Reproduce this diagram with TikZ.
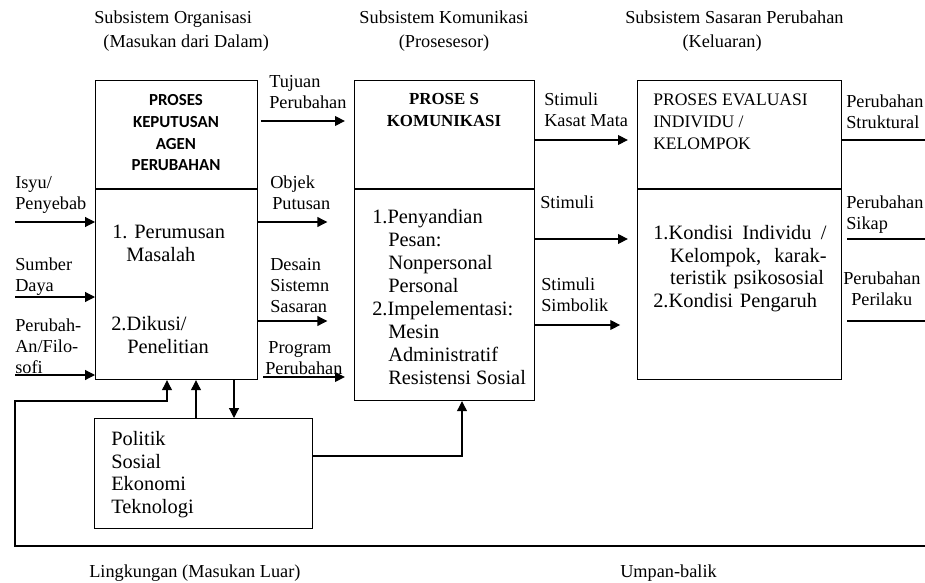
\documentclass[tikz,border=0pt]{standalone}
\usepackage{fontspec}
\setmainfont{Liberation Serif}
\newfontfamily\hdfont{Carlito}
\usetikzlibrary{positioning,arrows.meta}

\tikzset{
  box/.style={draw,line width=0.8pt,inner sep=0pt,anchor=north west},
  body/.style={inner sep=0pt,anchor=north west,align=left,font=\fontsize{14.5}{16.2}\selectfont},
  lbl/.style={inner sep=0pt,anchor=north west,align=left,font=\fontsize{13}{14.8}\selectfont},
  ttl/.style={inner sep=0pt,anchor=north west,align=left,font=\fontsize{13}{17}\selectfont},
  arr/.style={line width=0.8pt,-{Triangle[length=7pt,width=7pt]}},
  ln/.style={line width=0.8pt}
}

\begin{document}
\begin{tikzpicture}[x=0.025cm,y=-0.025cm]
\useasboundingbox (0,0) rectangle (925,583);

% judul subsistem
\node[ttl] (tOrg) at (94,11) {Subsistem Organisasi\\\hspace*{0.23cm}(Masukan dari Dalam)};
\node[ttl,anchor=north,align=center] (tKom) at (444,11) {Subsistem Komunikasi\\(Prosesesor)};
\node[ttl] (tSas) at (625,11) {Subsistem Sasaran Perubahan\\\hspace*{1.43cm}(Keluaran)};

% kotak proses
\node[box,minimum width=4.05cm,minimum height=7.475cm] (kep) at (95,80) {};
\node[box,minimum width=4.5cm,minimum height=8cm] (kom) at (354,80) {};
\node[box,minimum width=5.1cm,minimum height=7.475cm] (eva) at (637,80) {};
\node[box,minimum width=5.45cm,minimum height=2.75cm] (pol) at (94,418) {};

\coordinate (div) at (0,189);
\foreach \b in {kep,kom,eva}
  \draw[ln] (\b.west |- div) -- (\b.east |- div);

% isi kotak
\node[inner sep=0pt,anchor=north,align=center,font=\hdfont\bfseries\fontsize{12}{15.4}\selectfont] (kepH) at (176,94.5)
  {PROSES\\KEPUTUSAN\\AGEN\\PERUBAHAN};
\node[body] (kepA) at (112,225) {1. Perumusan\\\hspace*{0.35cm}Masalah};
\node[body] (kepB) at (111,316) {2.Dikusi/\\\hspace*{0.4cm}Penelitian};

\node[inner sep=0pt,anchor=north,align=center,font=\bfseries\fontsize{12}{15.6}\selectfont] (komH) at (444,93.5)
  {PROSE S\\KOMUNIKASI};
\node[body,font=\fontsize{14.5}{16.4}\selectfont] (komB) at (372,209)
  {1.Penyandian\\\hspace*{0.4cm}Pesan:\\\hspace*{0.4cm}Nonpersonal\\\hspace*{0.4cm}Personal\\
   2.Impelementasi:\\\hspace*{0.4cm}Mesin\\\hspace*{0.4cm}Administratif\\\hspace*{0.4cm}Resistensi Sosial};

\node[body,font=\fontsize{12.5}{15.6}\selectfont] (evaH) at (653,94)
  {PROSES EVALUASI\\INDIVIDU /\\KELOMPOK};
\node[body,text width=4.33cm] (evaB) at (653,225)
  {1.Kondisi\hfill Individu\hfill /\\\hspace*{0.42cm}Kelompok,\hfill karak-\\
   \hspace*{0.42cm}teristik psikososial\\2.Kondisi Pengaruh};

\node[body] (polB) at (111,431) {Politik\\Sosial\\Ekonomi\\Teknologi};

% label masukan dan keluaran
\node[lbl] (lIsu) at (15,176) {Isyu/\\Penyebab};
\node[lbl] (lSum) at (15,258) {Sumber\\Daya};
\node[lbl] (lFil) at (15,319) {Perubah-\\An/Filo-\\sofi};
\node[lbl] (lTuj) at (269,75) {Tujuan\\Perubahan};
\node[lbl] (lObj) at (270,176) {Objek\\\hspace*{0.05cm}Putusan};
\node[lbl] (lDes) at (270,258) {Desain\\Sistemn\\Sasaran};
\node[lbl] (lPro) at (265,341) {\hspace*{0.08cm}Program\\Perubahan};
\node[lbl] (lKas) at (544,93) {Stimuli\\Kasat Mata};
\node[lbl] (lSti) at (540,196) {Stimuli};
\node[lbl] (lSim) at (541,278) {Stimuli\\Simbolik};
\node[lbl] (lStr) at (846,95) {Perubahan\\Struktural};
\node[lbl] (lSik) at (846,196) {Perubahan\\Sikap};
\node[lbl] (lPer) at (843,272) {Perubahan\\\hspace*{0.2cm}Perilaku};
\node[lbl] (lLing) at (89,565) {Lingkungan (Masukan Luar)};
\node[lbl] (lUmp) at (620,565) {Umpan-balik};

% panah
\coordinate (lx) at (15,0);
\coordinate (rx) at (925,0);
\foreach \y in {222,297,375}
  \draw[arr] (lx |- 0,\y) -- (kep.west |- 0,\y);

\draw[arr,shorten <=2pt,shorten >=6.5pt] (kep.east |- 0,121) -- (kom.west |- 0,121);
\draw[arr,shorten >=19pt] (kep.east |- 0,222) -- (kom.west |- 0,222);
\draw[arr,shorten >=19pt] (kep.east |- 0,321) -- (kom.west |- 0,321);
\draw[arr,shorten <=3.5pt,shorten >=6.5pt] (kep.east |- 0,377) -- (kom.west |- 0,377);

\draw[arr,shorten >=6.5pt] (kom.east |- 0,140) -- (eva.west |- 0,140);
\draw[arr,shorten >=6.5pt] (kom.east |- 0,239) -- (eva.west |- 0,239);
\draw[arr,shorten >=12pt] (kom.east |- 0,325) -- (eva.west |- 0,325);

\draw[ln] (eva.east |- 0,140) -- (rx |- 0,140);
\draw[ln,shorten <=3.5pt] (eva.east |- 0,239) -- (rx |- 0,239);
\draw[ln,shorten <=3.5pt] (eva.east |- 0,321) -- (rx |- 0,321);

% lingkungan dan umpan balik
\draw[arr] (196,0 |- pol.north) -- (196,0 |- kep.south);
\draw[arr] (234,0 |- kep.south) -- (234,0 |- pol.north);
\draw[arr] (pol.east |- 0,456) -| (462,0 |- kom.south);

\coordinate (fbL) at (15,546);
\coordinate (fbR) at (925,546);
\coordinate (fbT) at (167,401);
\draw[arr] (fbR) -- (fbL) |- (fbT) -- (fbT |- kep.south);
\end{tikzpicture}
\end{document}
